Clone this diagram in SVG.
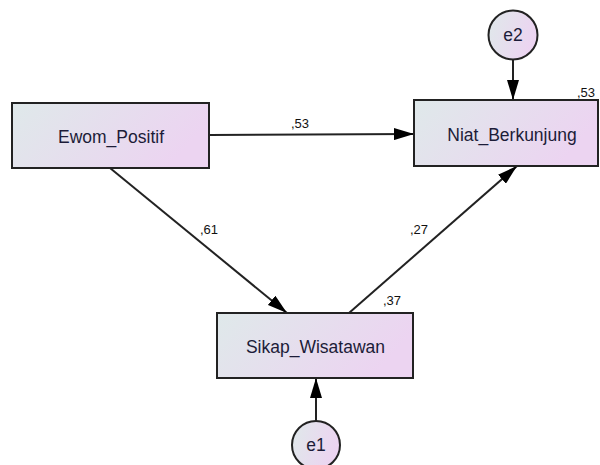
<svg xmlns="http://www.w3.org/2000/svg" width="600" height="465" viewBox="0 0 600 465">
<defs>
<linearGradient id="g" x1="0" y1="0" x2="1" y2="0.3">
<stop offset="0" stop-color="#dfe9ea"/>
<stop offset="1" stop-color="#ecd4f1"/>
</linearGradient>
<marker id="ah" viewBox="0 0 20 12" refX="20" refY="6" markerWidth="20" markerHeight="12" markerUnits="userSpaceOnUse" orient="auto">
<path d="M0,0 L20,6 L0,12 Z" fill="#000"/>
</marker>
<style>
.box{fill:url(#g);stroke:#222;stroke-width:2}
.lbl{font-family:"Liberation Sans",Arial,sans-serif;font-size:17.5px;fill:#1c1c38;text-anchor:middle}
.num{font-family:"Liberation Sans",Arial,sans-serif;font-size:13px;fill:#111}
.con line{stroke:#222;stroke-width:2;marker-end:url(#ah)}
</style>
</defs>
<rect width="600" height="465" fill="#fff"/>
<g class="con">
<line x1="210" y1="135" x2="414" y2="134"/>
<line x1="110" y1="168" x2="287" y2="313"/>
<line x1="349" y1="313" x2="517" y2="166"/>
<line x1="513" y1="60" x2="513" y2="100"/>
<line x1="316" y1="421" x2="316" y2="378"/>
<text class="num" x="291" y="128">,53</text>
<text class="num" x="200" y="234">,61</text>
<text class="num" x="410" y="234">,27</text>
</g>
<g id="ewom">
<rect class="box" x="12" y="103" width="197" height="65"/>
<text class="lbl" x="111" y="143">Ewom_Positif</text>
</g>
<g id="niat">
<rect class="box" x="414" y="100" width="184" height="66"/>
<text class="lbl" x="512" y="141">Niat_Berkunjung</text>
<text class="num" x="577" y="97">,53</text>
</g>
<g id="sikap">
<rect class="box" x="217" y="313" width="196" height="65"/>
<text class="lbl" x="315.5" y="353">Sikap_Wisatawan</text>
<text class="num" x="383" y="305">,37</text>
</g>
<g id="e2">
<circle class="box" cx="513" cy="35" r="24.5"/>
<text class="lbl" x="513" y="41">e2</text>
</g>
<g id="e1">
<circle class="box" cx="316" cy="445" r="24"/>
<text class="lbl" x="316" y="451">e1</text>
</g>
</svg>
